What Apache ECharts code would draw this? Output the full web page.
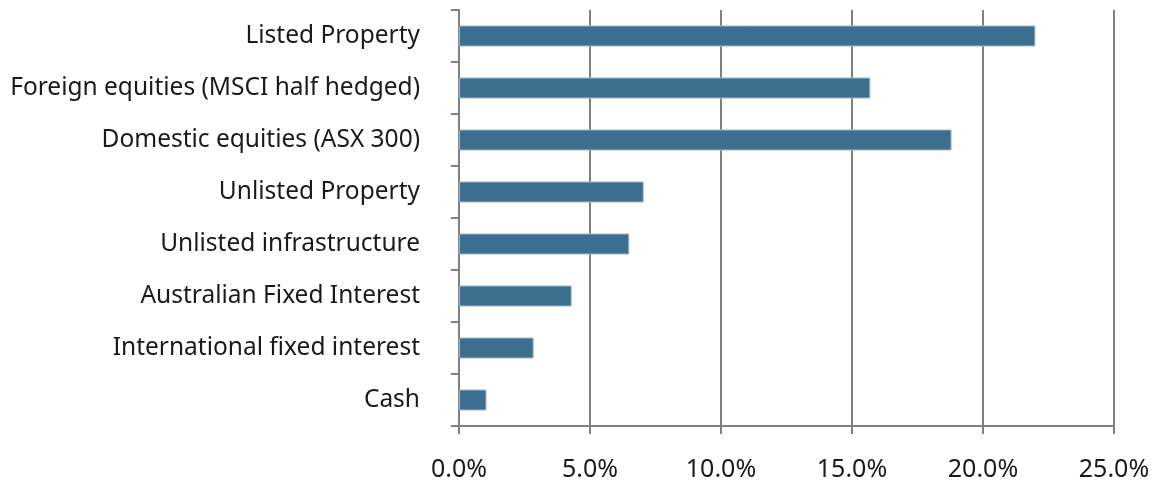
<!DOCTYPE html>
<html>
<head>
<meta charset="utf-8">
<script src="https://cdn.jsdelivr.net/npm/echarts@6/dist/echarts.min.js"></script>
<style>
  html, body { margin: 0; padding: 0; background: #fff; }
  #chart { width: 1159px; height: 486px; }
</style>
</head>
<body>
<div id="chart"></div>
<script>
// categories listed bottom to top (category axis starts at the bottom)
var categories = [
  'Cash',
  'International fixed interest',
  'Australian Fixed Interest',
  'Unlisted infrastructure',
  'Unlisted Property',
  'Domestic equities (ASX 300)',
  'Foreign equities (MSCI half hedged)',
  'Listed Property'
]
var values = [1.05, 2.85, 4.3, 6.5, 7.05, 18.8, 15.7, 22.0]
var xTicks = [0, 5, 10, 15, 20, 25]

var chart = echarts.init(document.getElementById('chart'))
var options = {
  animation: false,
  grid: {
    left: 459,
    right: 45,
    top: 10,
    bottom: 60
  },
  xAxis: {
    type: 'value',
    min: xTicks[0],
    max: xTicks[xTicks.length - 1],
    interval: 5,
    axisLine: { show: true, lineStyle: { color: '#808080', width: 2 } },
    axisTick: { show: true, length: 8, lineStyle: { color: '#808080', width: 2 } },
    splitLine: { show: true, lineStyle: { color: '#808080', width: 2 } },
    axisLabel: {
      margin: 31,
      color: '#1a1a1a',
      fontSize: 25,
      fontFamily: 'Noto Sans',
      formatter: function (v) { return v.toFixed(1) + '%' }
    }
  },
  yAxis: {
    type: 'category',
    data: categories,
    axisLine: { show: true, lineStyle: { color: '#808080', width: 2 } },
    axisTick: { show: true, length: 8, lineStyle: { color: '#808080', width: 2 } },
    axisLabel: {
      margin: 39,
      color: '#1a1a1a',
      fontSize: 24.5,
      fontFamily: 'Noto Sans',
      padding: [6, 0, 0, 0]
    }
  },
  series: [{
    type: 'bar',
    data: values,
    barWidth: 21,
    itemStyle: {
      color: '#3b6e8f',
      borderColor: '#9fb9cb',
      borderWidth: 1
    }
  }]
}
chart.setOption(options)
</script>
</body>
</html>
